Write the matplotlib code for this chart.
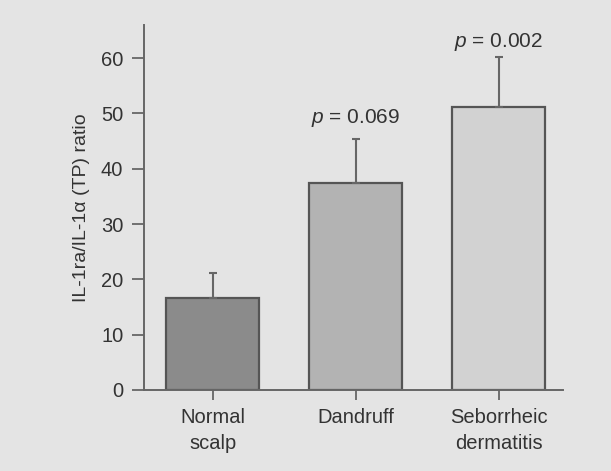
import matplotlib
matplotlib.use("Agg")
import matplotlib.pyplot as plt

# data
groups = ["Normal\nscalp", "Dandruff", "Seborrheic\ndermatitis"]
ratio = [16.6, 37.4, 51.1]
err_up = [4.6, 8.0, 9.1]
p_labels = ["", "$p$ = 0.069", "$p$ = 0.002"]
p_y = [0, 49.2, 63.0]
bar_colors = ["#8b8b8b", "#b3b3b3", "#d2d2d2"]
yticks = [0, 10, 20, 30, 40, 50, 60]

plt.rcParams["font.family"] = ["Liberation Sans", "DejaVu Sans"]
plt.rcParams["mathtext.fontset"] = "custom"
plt.rcParams["mathtext.it"] = "Liberation Sans:italic"

bg = "#e4e4e4"
fig = plt.figure(figsize=(6.11, 4.71), dpi=100, facecolor=bg)
ax = fig.add_axes([0.236, 0.172, 0.686, 0.775], facecolor=bg)

x = range(len(groups))
ax.bar(x, ratio, width=0.65, color=bar_colors, edgecolor="#555555", linewidth=1.6, zorder=2)
ax.errorbar(x, ratio, yerr=[[0, 0, 0], err_up], fmt="none", ecolor="#666666",
            elinewidth=1.5, capsize=3, capthick=1.5, zorder=3)

for i, t in enumerate(p_labels):
    if t:
        ax.text(i, p_y[i], t, ha="center", va="center", fontsize=15, color="#333333")

ax.set_xlim(-0.48, 2.45)
ax.set_ylim(0, 66)
ax.set_yticks(yticks)
ax.set_xticks(list(x))
ax.set_xticklabels(groups, fontsize=14.5, color="#333333", linespacing=1.45)
ax.tick_params(axis="y", labelsize=14.5, labelcolor="#333333", colors="#666666",
               length=9, width=1.3, pad=6)
ax.tick_params(axis="x", colors="#666666", labelcolor="#333333", length=7, width=1.3, pad=6)
for lab in ax.get_yticklabels():
    lab.set_color("#333333")

ax.set_ylabel("IL-1ra/IL-1\u03b1 (TP) ratio", fontsize=14, color="#333333", labelpad=8)

for s in ["top", "right"]:
    ax.spines[s].set_visible(False)
for s in ["left", "bottom"]:
    ax.spines[s].set_color("#666666")
    ax.spines[s].set_linewidth(1.4)

fig.savefig("out.png", dpi=100, facecolor=bg)
